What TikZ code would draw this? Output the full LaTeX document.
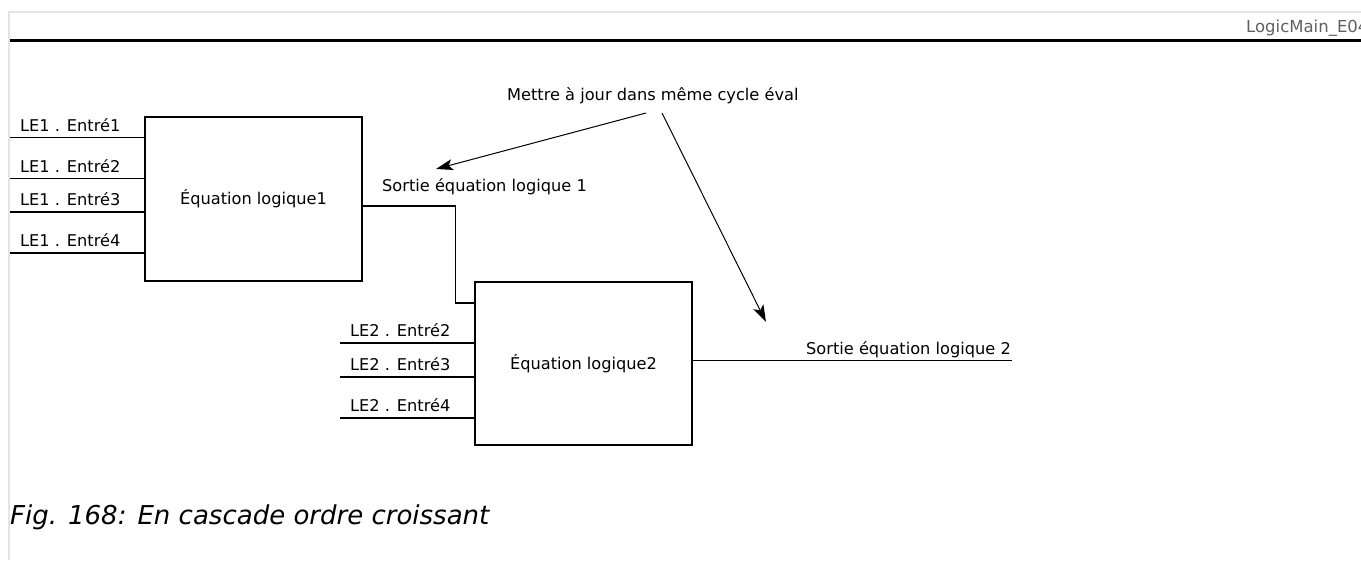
\documentclass[tikz,border=0pt]{standalone}
\usepackage{fontspec}
\setmainfont{DejaVu Sans}
\usetikzlibrary{arrows.meta}
\definecolor{framegray}{HTML}{E4E4E4}
\definecolor{hdrgray}{HTML}{606060}
\tikzset{
  blk/.style={draw, line width=1.2pt, minimum width=217pt, minimum height=164pt, inner sep=0pt, font=\fontsize{16.2}{19}\selectfont},
  wire/.style={line width=1.2pt},
  lbl/.style={anchor=base west, inner sep=0pt, font=\fontsize{16.2}{19}\selectfont},
  note/.style={line width=1pt, -{Stealth[length=17pt,width=11pt,inset=4pt]}},
}
\begin{document}
\begin{tikzpicture}[x=1pt,y=-1pt]
\useasboundingbox (0,0) rectangle (1361,560);
% page frame
\draw[framegray, line width=2pt] (9,560) -- (9,12) -- (1361,12);
\draw[line width=3pt] (10,40) -- (1361,40);
\begin{scope}
\clip (0,0) rectangle (1361,560);
\node[anchor=base west, inner sep=0pt, text=hdrgray, font=\fontsize{16.5}{19}\selectfont] (hdr) at (1246,32) {LogicMain\_E04};
\end{scope}
% blocks
\node[blk] (eq1) at (253.5,199) {Équation logique1};
\node[blk, minimum height=163pt] (eq2) at (583.5,363.5) {Équation logique2};
% inputs of block 1
\foreach \i/\y in {1/137.5,2/178.5,3/212,4/253}{
  \coordinate (a\i) at (10,\y);
  \draw[wire] (a\i) -- (a\i -| eq1.west);
  \node[lbl] (la\i) at (20,\y-6.5) {LE1 . Entré\i};
}
% inputs of block 2
\foreach \i/\y in {2/343,3/377,4/418}{
  \coordinate (b\i) at (340,\y);
  \draw[wire] (b\i) -- (b\i -| eq2.west);
  \node[lbl] (lb\i) at (350,\y-6.5) {LE2 . Entré\i};
}
% cascade connection
\coordinate (o1) at (eq1.east |- 0,206);
\coordinate (i2) at (eq2.west |- 0,303);
\draw[wire] (o1) -- (455.5,206) -- (455.5,303) -- (i2);
\node[lbl] (s1) at (382,191.5) {Sortie équation logique 1};
% output of block 2
\coordinate (o2) at (1012,360.5);
\draw[wire] (o2 -| eq2.east) -- (o2);
\node[lbl, anchor=base east] (s2) at (1011,354) {Sortie équation logique 2};
% note
\node[lbl] (m) at (507,100.5) {Mettre à jour dans même cycle éval};
\coordinate (m1) at (646,113);
\coordinate (m2) at (662,113);
\coordinate (t1) at (436,169);
\coordinate (t2) at (766,322);
\draw[note] (m1) -- (t1);
\draw[note] (m2) -- (t2);
% caption
\node[anchor=base west, inner sep=0pt, font=\itshape\fontsize{26}{30}\selectfont] (cap) at (10,524) {Fig. 168: En cascade ordre croissant};
\end{tikzpicture}
\end{document}
